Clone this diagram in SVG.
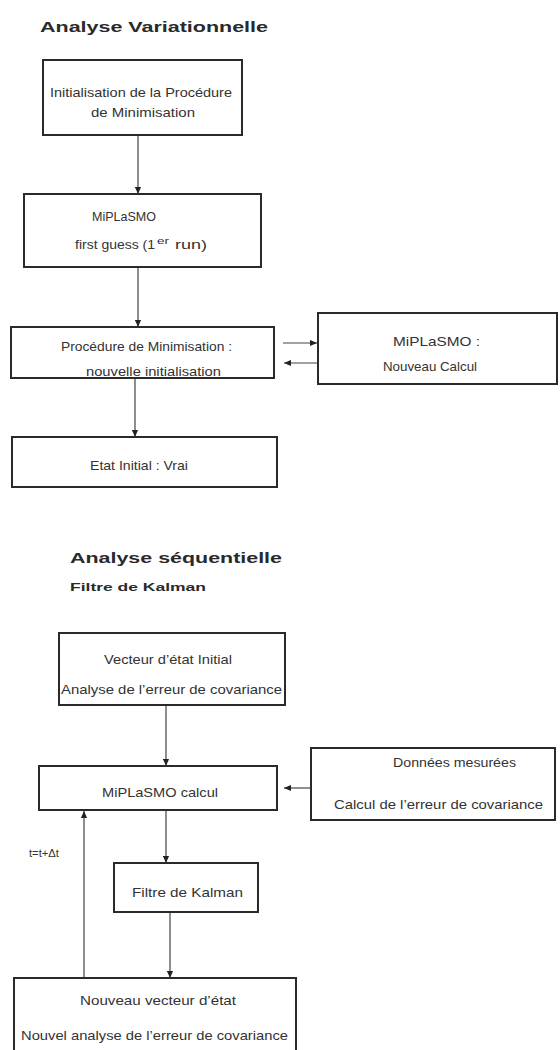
<svg xmlns="http://www.w3.org/2000/svg" width="560" height="1050" viewBox="0 0 560 1050">
<defs>
<marker id="ah" viewBox="0 0 8 8" refX="8" refY="4" markerWidth="7" markerHeight="7" markerUnits="userSpaceOnUse" orient="auto">
<path d="M0,0.5 L8,4 L0,7.5 z" fill="#222"/>
</marker>
<style>
.box{fill:#fff;stroke:#2a2a2a;stroke-width:2}
.t{font-family:"Liberation Sans",Arial,sans-serif;font-size:13px;fill:#333}
.sup{font-size:9px}
.sm{font-size:11px}
.h{font-family:"Liberation Sans",Arial,sans-serif;font-weight:bold;fill:#2a2a2a}
.c{fill:none;stroke:#444;stroke-width:1.2}
</style>
</defs>
<rect width="560" height="1050" fill="#fff"/>

<text class="h" x="40" y="32" font-size="15" textLength="228" lengthAdjust="spacingAndGlyphs">Analyse Variationnelle</text>
<text class="h" x="70" y="563" font-size="15" textLength="212" lengthAdjust="spacingAndGlyphs">Analyse séquentielle</text>
<text class="h" x="70" y="591" font-size="11.5" textLength="136" lengthAdjust="spacingAndGlyphs">Filtre de Kalman</text>

<g id="connectors">
<line class="c" x1="138" y1="135" x2="138" y2="194" marker-end="url(#ah)"/>
<line class="c" x1="138" y1="267" x2="138" y2="327" marker-end="url(#ah)"/>
<line class="c" x1="283" y1="343" x2="317" y2="343" marker-end="url(#ah)"/>
<line class="c" x1="317" y1="363" x2="284" y2="363" marker-end="url(#ah)"/>
<line class="c" x1="135" y1="379" x2="135" y2="437" marker-end="url(#ah)"/>
<line class="c" x1="166" y1="705" x2="166" y2="766" marker-end="url(#ah)"/>
<line class="c" x1="310" y1="788" x2="284" y2="788" marker-end="url(#ah)"/>
<line class="c" x1="166" y1="810" x2="166" y2="863" marker-end="url(#ah)"/>
<line class="c" x1="170" y1="912" x2="170" y2="978" marker-end="url(#ah)"/>
<line class="c" x1="84" y1="978" x2="84" y2="811" marker-end="url(#ah)"/>
<text class="t sm" x="29" y="857" textLength="30" lengthAdjust="spacingAndGlyphs">t=t+Δt</text>
</g>

<g id="n1">
<rect class="box" x="43" y="60" width="199" height="75"/>
<text class="t" x="50" y="97" textLength="182" lengthAdjust="spacingAndGlyphs">Initialisation de la Procédure</text>
<text class="t" x="91" y="117" textLength="104" lengthAdjust="spacingAndGlyphs">de Minimisation</text>
</g>

<g id="n2">
<rect class="box" x="24" y="194" width="237" height="73"/>
<text class="t" x="92" y="221" textLength="64" lengthAdjust="spacingAndGlyphs">MiPLaSMO</text>
<text class="t" x="75" y="249" textLength="80" lengthAdjust="spacingAndGlyphs">first guess (1</text>
<text class="t sup" x="157" y="244" textLength="12" lengthAdjust="spacingAndGlyphs">er</text>
<text class="t" x="175" y="249" textLength="32" lengthAdjust="spacingAndGlyphs">run)</text>
</g>

<g id="n3">
<rect class="box" x="11" y="327" width="263" height="51"/>
<text class="t" x="61" y="351" textLength="171" lengthAdjust="spacingAndGlyphs">Procédure de Minimisation :</text>
<text class="t" x="86" y="376" textLength="135" lengthAdjust="spacingAndGlyphs">nouvelle initialisation</text>
</g>

<g id="n4">
<rect class="box" x="318" y="313" width="239" height="71"/>
<text class="t" x="393" y="346" textLength="87" lengthAdjust="spacingAndGlyphs">MiPLaSMO :</text>
<text class="t" x="383" y="371" textLength="94" lengthAdjust="spacingAndGlyphs">Nouveau Calcul</text>
</g>

<g id="n5">
<rect class="box" x="12" y="437" width="265" height="50"/>
<text class="t" x="90" y="470" textLength="98" lengthAdjust="spacingAndGlyphs">Etat Initial : Vrai</text>
</g>

<g id="n6">
<rect class="box" x="59" y="633" width="226" height="72"/>
<text class="t" x="104" y="664" textLength="128" lengthAdjust="spacingAndGlyphs">Vecteur  d’état Initial</text>
<text class="t" x="61" y="694" textLength="221" lengthAdjust="spacingAndGlyphs">Analyse de  l’erreur de covariance</text>
</g>

<g id="n7">
<rect class="box" x="39" y="766" width="238" height="44"/>
<text class="t" x="102" y="797" textLength="116" lengthAdjust="spacingAndGlyphs">MiPLaSMO calcul</text>
</g>

<g id="n8">
<rect class="box" x="311" y="748" width="244" height="72"/>
<text class="t" x="393" y="767" textLength="123" lengthAdjust="spacingAndGlyphs">Données mesurées</text>
<text class="t" x="334" y="809" textLength="209" lengthAdjust="spacingAndGlyphs">Calcul de l’erreur de covariance</text>
</g>

<g id="n9">
<rect class="box" x="114" y="863" width="144" height="49"/>
<text class="t" x="132" y="897" textLength="111" lengthAdjust="spacingAndGlyphs">Filtre de Kalman</text>
</g>

<g id="n10">
<rect class="box" x="14" y="978" width="282" height="90"/>
<text class="t" x="80" y="1005" textLength="156" lengthAdjust="spacingAndGlyphs">Nouveau vecteur   d’état</text>
<text class="t" x="21" y="1040" textLength="267" lengthAdjust="spacingAndGlyphs">Nouvel analyse de  l’erreur de covariance</text>
</g>
</svg>
